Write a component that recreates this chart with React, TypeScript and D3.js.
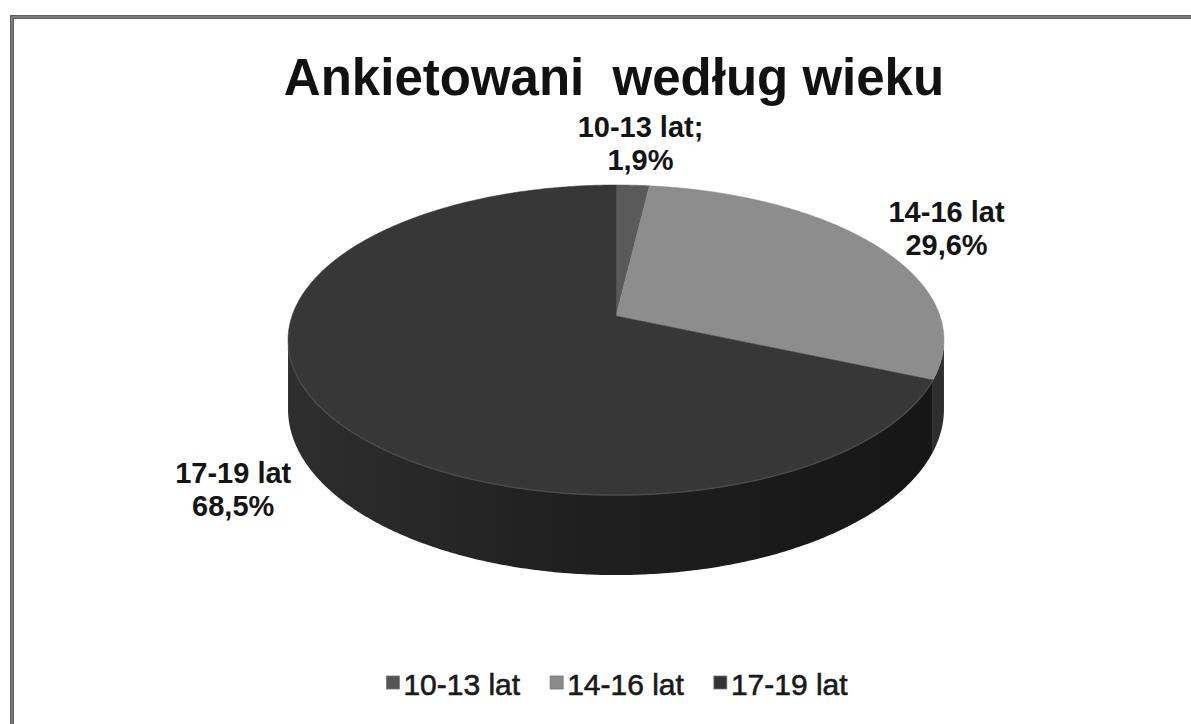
import React, { useEffect, useRef } from "react";
import * as d3 from "d3";

// ---- data ----
const categories = ["10-13 lat", "14-16 lat", "17-19 lat"];
const values = [1.9, 29.6, 68.5];
const labelNames = ["10-13 lat;", "14-16 lat", "17-19 lat"];
const labelValues = ["1,9%", "29,6%", "68,5%"];
const chartTitle = "Ankietowani  według wieku";

// ---- styles ----
const topColors = ["#5a5a5a", "#8d8d8d", "#373737"];
const sideColors = ["#3a3a3a", "#2e2e2e", "url(#sideGrad)"];
const legendColors = ["#555555", "#8a8a8a", "#333333"];

// ---- layout ----
const W = 1191;
const H = 724;
const CX = 616;
const CY = 316;
const RAD = 324;
const SIN_P = 0.467;
const COS_P = 0.884;
const DIST = 1848;
const DEPTH = 67.6;
const labelLayout = [
  { f: 1.42, dx: 2, dy: 5 },
  { f: 1.32, dx: -6, dy: 4 },
  { f: 1.25, dx: -4, dy: 59 },
];

function proj(theta: number, rf = 1, h = 0): [number, number] {
  const x = RAD * rf * Math.sin(theta);
  const d = -RAD * rf * Math.cos(theta);
  const s = DIST / (DIST - d * COS_P);
  return [CX + x * s, CY + (d * SIN_P + h * DEPTH) * s];
}

function arcPoints(a0: number, a1: number, h = 0): [number, number][] {
  const n = Math.max(2, Math.ceil(Math.abs(a1 - a0) / (Math.PI / 360)));
  const pts: [number, number][] = [];
  for (let i = 0; i <= n; i++) {
    const t = a0 + ((a1 - a0) * i) / n;
    pts.push(proj(t, 1, h));
  }
  return pts;
}

export default function App() {
  const ref = useRef<SVGSVGElement>(null);

  useEffect(() => {
    const svg = d3.select(ref.current);
    svg.selectAll("*").remove();

    const defs = svg.append("defs");
    const sg = defs
      .append("linearGradient")
      .attr("id", "sideGrad")
      .attr("gradientUnits", "userSpaceOnUse")
      .attr("x1", CX - RAD)
      .attr("x2", CX + RAD)
      .attr("y1", 0)
      .attr("y2", 0);
    sg.append("stop").attr("offset", 0).attr("stop-color", "#2e2e2e");
    sg.append("stop").attr("offset", 0.45).attr("stop-color", "#1f1f1f");
    sg.append("stop").attr("offset", 1).attr("stop-color", "#161616");

    svg.append("rect").attr("width", W).attr("height", H).attr("fill", "#ffffff");

    // frame (top + left only)
    svg
      .append("path")
      .attr("d", `M12,${H} V17 H${W}`)
      .attr("fill", "none")
      .attr("stroke", "#5c5c5c")
      .attr("stroke-width", 4);
    svg
      .append("path")
      .attr("d", `M12,${H} V17 H${W}`)
      .attr("fill", "none")
      .attr("stroke", "#9a9a9a")
      .attr("stroke-width", 1);

    const pie = d3
      .pie<number>()
      .sort(null)
      .startAngle(0)
      .endAngle(2 * Math.PI)
      .value((d) => d);
    const arcs = pie(values);

    const line = d3.line<[number, number]>().x((p) => p[0]).y((p) => p[1]);

    const k = (RAD * COS_P) / DIST;
    const thR = Math.acos(-k);
    const thL = 2 * Math.PI - thR;

    // sides
    arcs.forEach((a, i) => {
      const s0 = Math.max(a.startAngle, thR);
      const s1 = Math.min(a.endAngle, thL);
      if (s1 <= s0) return;
      const topPts = arcPoints(s0, s1, 0);
      const botPts = arcPoints(s0, s1, 1).reverse();
      svg
        .append("path")
        .attr("d", line([...topPts, ...botPts]) + "Z")
        .attr("fill", sideColors[i]);
    });

    // top faces
    arcs.forEach((a, i) => {
      const pts: [number, number][] = [proj(0, 0), ...arcPoints(a.startAngle, a.endAngle, 0)];
      svg
        .append("path")
        .attr("d", line(pts) + "Z")
        .attr("fill", topColors[i])
        .attr("stroke", topColors[i])
        .attr("stroke-width", 0.5);
    });

    // subtle rim highlight along the front edge
    svg
      .append("path")
      .attr("d", line(arcPoints(thR + 0.25, thL - 0.05, 0)) as string)
      .attr("fill", "none")
      .attr("stroke", "#4a4a4a")
      .attr("stroke-width", 1.5);

    // title
    svg
      .append("text")
      .attr("x", 614)
      .attr("y", 95)
      .attr("text-anchor", "middle")
      .attr("font-family", "'Liberation Sans', Arial, sans-serif")
      .attr("font-weight", "bold")
      .attr("font-size", 51)
      .attr("fill", "#111")
      .style("white-space", "pre")
      .text(chartTitle);

    // data labels
    arcs.forEach((a, i) => {
      const mid = (a.startAngle + a.endAngle) / 2;
      const L = labelLayout[i];
      const [px, py] = proj(mid, L.f);
      const x = px + L.dx;
      const y = py + L.dy;
      const t = svg
        .append("text")
        .attr("text-anchor", "middle")
        .attr("font-family", "'Liberation Sans', Arial, sans-serif")
        .attr("font-weight", "bold")
        .attr("font-size", 29)
        .attr("fill", "#141414");
      t.append("tspan").attr("x", x).attr("y", y - 8).text(labelNames[i]);
      t.append("tspan").attr("x", x).attr("y", y + 25).text(labelValues[i]);
    });

    // legend
    const lg = svg.append("g");
    let xx = 0;
    const sq = 13;
    categories.forEach((c, i) => {
      lg.append("rect")
        .attr("x", xx)
        .attr("y", -19)
        .attr("width", sq)
        .attr("height", sq)
        .attr("fill", legendColors[i])
        .attr("stroke", "#777")
        .attr("stroke-width", 0.8);
      const t = lg
        .append("text")
        .attr("x", xx + sq + 4)
        .attr("y", 0)
        .attr("font-family", "'Liberation Sans', Arial, sans-serif")
        .attr("font-size", 30)
        .attr("fill", "#1a1a1a")
        .attr("stroke", "#1a1a1a")
        .attr("stroke-width", 0.6)
        .text(c);
      const w = (t.node() as SVGTextElement).getComputedTextLength();
      xx += sq + 4 + w + 30;
    });
    const totalW = xx - 30;
    lg.attr("transform", `translate(${617 - totalW / 2},695)`);
  }, []);

  return (
    <svg
      ref={ref}
      width={W}
      height={H}
      style={{ position: "absolute", left: 0, top: 0, display: "block" }}
    />
  );
}
